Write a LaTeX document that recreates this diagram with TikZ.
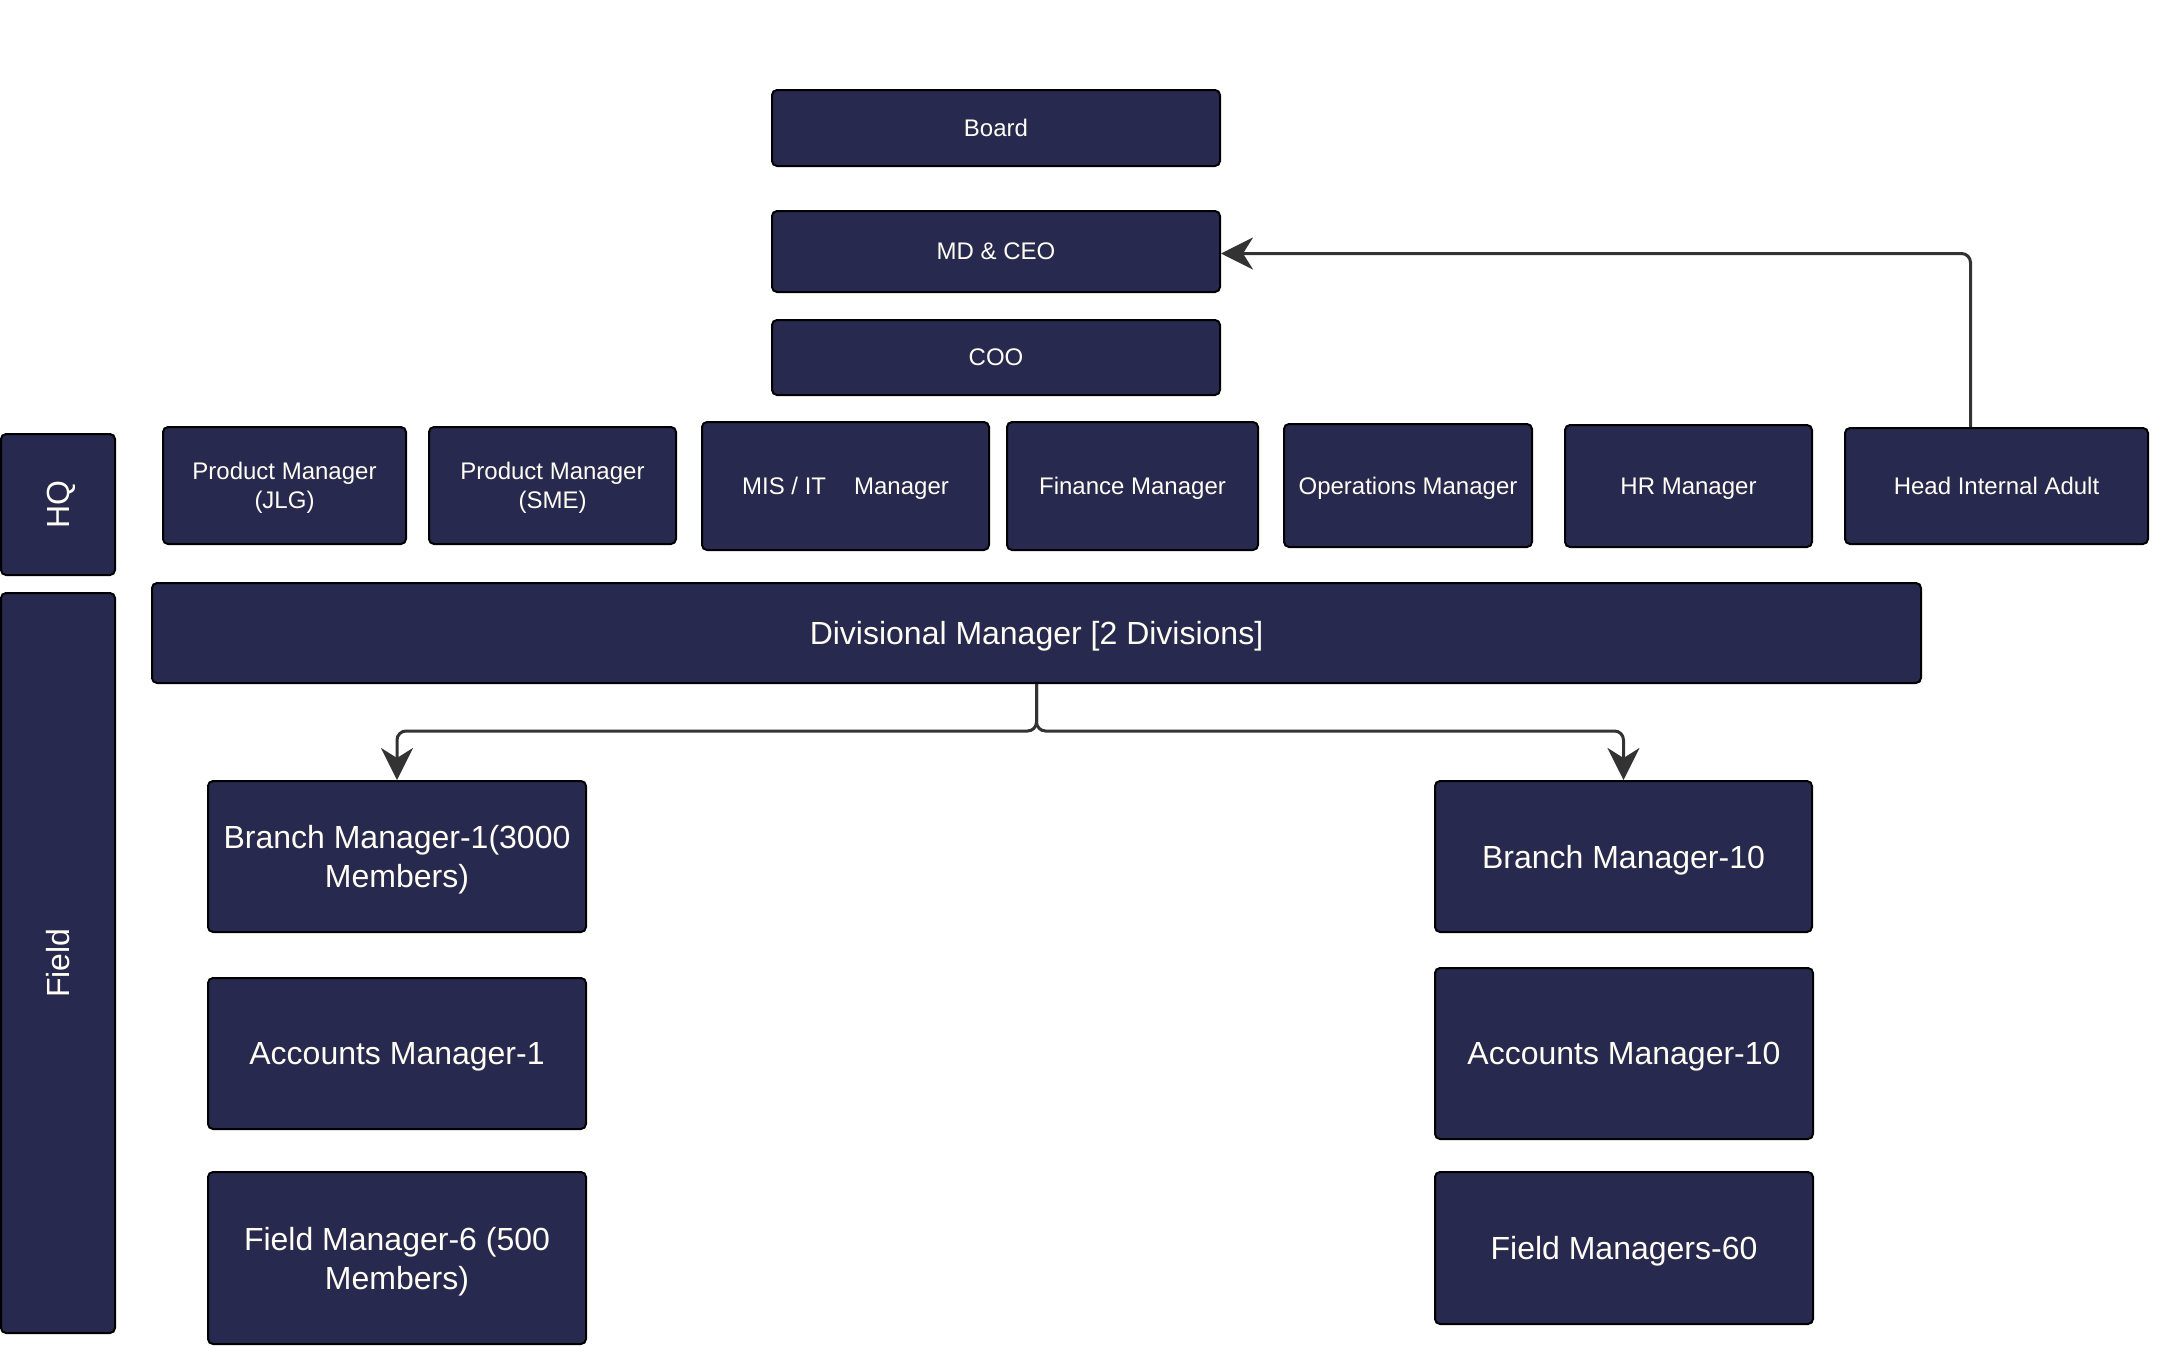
\documentclass[tikz,border=0pt]{standalone}
\usepackage{fontspec}
\setmainfont{Liberation Sans}
\usetikzlibrary{arrows.meta}
\definecolor{boxfill}{HTML}{28294E}
\definecolor{boxtext}{HTML}{FFFDF4}
\definecolor{conncol}{HTML}{333333}
\tikzset{
  orgbox/.style={draw=black, line width=2pt, fill=boxfill, rounded corners=5pt,
    text=boxtext, align=center, inner sep=0pt, text depth=0pt},
  smalltxt/.style={font=\fontsize{24}{29}\selectfont},
  bigtxt/.style={font=\fontsize{32}{39}\selectfont},
  conn/.style={draw=conncol, line width=3pt, rounded corners=9pt,
    -{Stealth[length=32pt, width=32pt, inset=10pt]}}
}
\begin{document}
\begin{tikzpicture}[x=1pt,y=-1pt]
\useasboundingbox[fill=white] (0,0) rectangle (2172,1347);

% top chain
\node[orgbox, smalltxt, minimum width=448pt, minimum height=76pt] (board) at (996,128) {Board};
\node[orgbox, smalltxt, minimum width=448pt, minimum height=81pt] (ceo) at (996,251.5) {MD \& CEO};
\node[orgbox, smalltxt, minimum width=448pt, minimum height=75pt] (coo) at (996,357.5) {COO};

% side labels
\node[orgbox, bigtxt, rotate=90, minimum width=141pt, minimum height=114pt] (hq) at (58,504.5) {HQ};
\node[orgbox, bigtxt, rotate=90, minimum width=740pt, minimum height=114pt] (field) at (58,963) {Field};

% HQ managers
\node[orgbox, smalltxt, minimum width=243pt, minimum height=117pt] (pmjlg) at (284.5,485.5) {Product Manager\\(JLG)};
\node[orgbox, smalltxt, minimum width=247pt, minimum height=117pt] (pmsme) at (552.5,485.5) {Product Manager\\(SME)};
\node[orgbox, smalltxt, minimum width=287pt, minimum height=128pt] (mis) at (845.5,486) {MIS / IT\hspace{28pt}Manager};
\node[orgbox, smalltxt, minimum width=251pt, minimum height=128pt] (fin) at (1132.5,486) {Finance Manager};
\node[orgbox, smalltxt, minimum width=248pt, minimum height=123pt] (ops) at (1408,485.5) {Operations Manager};
\node[orgbox, smalltxt, minimum width=247pt, minimum height=122pt] (hr) at (1688.5,486) {HR Manager};
\node[orgbox, smalltxt, minimum width=303pt, minimum height=116pt] (hia) at (1996.5,486) {Head Internal Adult};

% divisional
\node[orgbox, bigtxt, minimum width=1769pt, minimum height=100pt] (div) at (1036.5,633) {Divisional Manager [2 Divisions]};

% left column
\node[orgbox, bigtxt, minimum width=378pt, minimum height=151pt] (bm1) at (397,856.5) {Branch Manager-1(3000\\Members)};
\node[orgbox, bigtxt, minimum width=378pt, minimum height=151pt] (am1) at (397,1053.5) {Accounts Manager-1};
\node[orgbox, bigtxt, minimum width=378pt, minimum height=172pt] (fm6) at (397,1258) {Field Manager-6 (500\\Members)};

% right column
\node[orgbox, bigtxt, minimum width=377pt, minimum height=151pt] (bm10) at (1623.5,856.5) {Branch Manager-10};
\node[orgbox, bigtxt, minimum width=378pt, minimum height=171pt] (am10) at (1624,1053.5) {Accounts Manager-10};
\node[orgbox, bigtxt, minimum width=378pt, minimum height=152pt] (fm60) at (1624,1248) {Field Managers-60};

% connectors
\coordinate (jn) at (1036.5,731);
\draw[conn] (div.south) -- (jn) -| (bm1.north);
\draw[conn] (div.south) -- (jn) -| (bm10.north);
\draw[conn] ([xshift=-26pt]hia.north) |- ([yshift=-2pt]ceo.east);
\end{tikzpicture}
\end{document}
